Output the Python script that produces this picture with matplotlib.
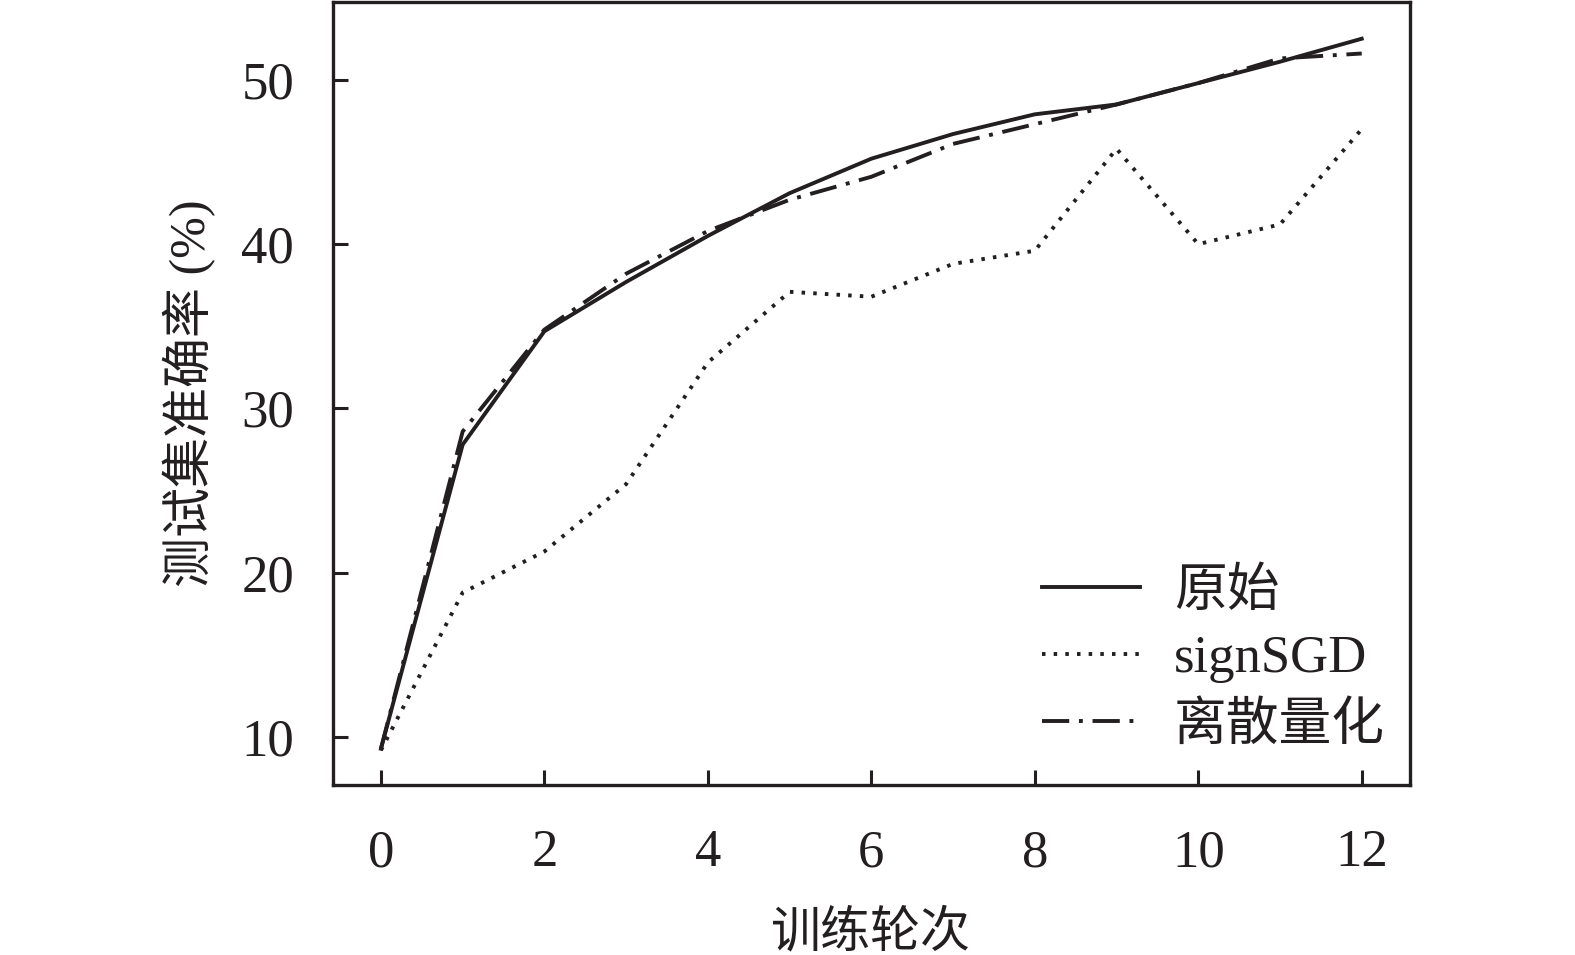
import matplotlib
matplotlib.use("Agg")
import matplotlib.pyplot as plt

epochs = [0, 1, 2, 3, 4, 5, 6, 7, 8, 9, 10, 11, 12]
orig = [9.3, 27.8, 34.7, 37.7, 40.5, 43.1, 45.2, 46.7, 47.9, 48.5, 49.8, 51.1, 52.5]
signsgd = [9.2, 18.8, 21.3, 25.4, 32.8, 37.1, 36.8, 38.8, 39.6, 45.8, 40.0, 41.2, 47.0]
quant = [9.3, 28.6, 34.8, 38.2, 40.8, 42.7, 44.1, 46.1, 47.3, 48.5, 49.8, 51.3, 51.6]
labels = ["原始", "signSGD", "离散量化"]
xticks = [0, 2, 4, 6, 8, 10, 12]
yticks = [10, 20, 30, 40, 50]

fam = ['Liberation Serif', 'Noto Sans CJK SC']
plt.rcParams['font.family'] = fam

fig = plt.figure(figsize=(15.75, 9.55), dpi=100)
ax = fig.add_axes([0.2114, 0.178, 0.6838, 0.820])
c = '#231f20'
lw = 2.8
ax.plot(epochs, orig, color=c, lw=lw, ls='-', label=labels[0])
ax.plot(epochs, signsgd, color=c, lw=lw, ls=(0, (0.9, 2.1)), label=labels[1])
ax.plot(epochs, quant, color=c, lw=lw, ls=(0, (7, 2.5, 1, 2.5)), label=labels[2])

ax.set_xlim(-0.587, 12.59)
ax.set_ylim(7.09, 54.74)
ax.set_xticks(xticks)
ax.set_yticks(yticks)
ax.tick_params(direction='in', length=11, width=2.2, labelsize=38, colors=c)
ax.tick_params(axis='x', pad=32)
ax.tick_params(axis='y', pad=28)
for s in ax.spines.values():
    s.set_linewidth(2.4)
    s.set_color(c)

ax.set_xlabel("训练轮次", fontsize=36, color=c, labelpad=24)
ax.set_ylabel("测试集准确率 (%)", fontsize=36, color=c, labelpad=18)

leg = ax.legend(loc='lower right', frameon=False, fontsize=38, handlelength=1.85,
                labelspacing=0.35, handletextpad=0.65, borderaxespad=0.4,
                bbox_to_anchor=(1.016, -0.01))
for t in leg.get_texts():
    t.set_color(c)

fig.savefig("out.png", dpi=100)
